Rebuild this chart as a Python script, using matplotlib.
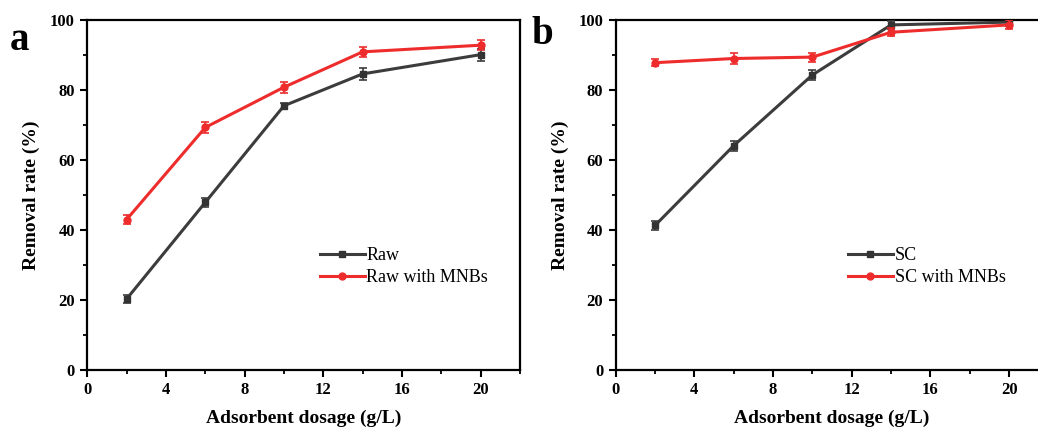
import matplotlib.pyplot as plt
from matplotlib.ticker import MultipleLocator

plt.rcParams['font.family'] = ['Liberation Serif', 'DejaVu Serif']

dosage = [2, 6, 10, 14, 20]

raw = [20.3, 47.9, 75.5, 84.6, 90.1]
raw_err = [1.2, 1.2, 0.9, 1.8, 1.7]
raw_mnb = [43.0, 69.3, 80.8, 90.9, 92.8]
raw_mnb_err = [1.3, 1.7, 1.6, 1.4, 1.5]

sc = [41.3, 64.1, 84.3, 98.6, 99.4]
sc_err = [1.2, 1.4, 1.5, 1.2, 1.0]
sc_mnb = [87.8, 89.0, 89.4, 96.5, 98.6]
sc_mnb_err = [1.0, 1.6, 1.3, 1.2, 1.3]

grey = '#3c3c3c'
red = '#ee2c2c'

fig = plt.figure(figsize=(10.38, 4.30), dpi=100)
W, H = 1038, 430
axa = fig.add_axes([87.3 / W, 60 / H, 432.7 / W, 350 / H])
axb = fig.add_axes([615.7 / W, 60 / H, 432.7 / W, 350 / H])


def panel(ax, y1, e1, y2, e2, names, letter, lx, ly):
    ax.errorbar(dosage, y1, yerr=e1, color=grey, lw=2.2, marker='s', ms=5,
                mfc='#333333', mec='#333333', capsize=3, elinewidth=1.2,
                capthick=1.2, label=names[0], zorder=3)
    ax.errorbar(dosage, y2, yerr=e2, color=red, lw=2.2, marker='o', ms=5,
                mfc=red, mec=red, capsize=3, elinewidth=1.2,
                capthick=1.2, label=names[1], zorder=4)
    ax.set_xlim(0, 22)
    ax.set_ylim(0, 100)
    ax.xaxis.set_major_locator(MultipleLocator(4))
    ax.xaxis.set_minor_locator(MultipleLocator(2))
    ax.yaxis.set_major_locator(MultipleLocator(20))
    ax.yaxis.set_minor_locator(MultipleLocator(10))
    ax.set_xticks([0, 4, 8, 12, 16, 20])
    for s in ax.spines.values():
        s.set_linewidth(1.6)
    ax.tick_params(which='major', direction='out', length=5, width=1.5,
                   labelsize=12, pad=4)
    ax.tick_params(which='minor', direction='out', length=3, width=1.3)
    for t in ax.get_xticklabels() + ax.get_yticklabels():
        t.set_fontweight('bold')
    ax.set_xlabel('Adsorbent dosage (g/L)', fontsize=14, fontweight='bold',
                  labelpad=8)
    ax.set_ylabel('Removal rate (%)', fontsize=14, fontweight='bold',
                  labelpad=7)
    handles, labels = ax.get_legend_handles_labels()
    handles = [h[0] for h in handles]
    ax.legend(handles, labels, loc='upper left', bbox_to_anchor=(0.52, 0.372),
              frameon=False, fontsize=13, handlelength=2.5, handletextpad=0.1,
              labelspacing=0.3, borderaxespad=0)
    fig.text(lx, ly, letter, fontsize=28, fontweight='bold', ha='left',
             va='center')


panel(axa, raw, raw_err, raw_mnb, raw_mnb_err, ['Raw', 'Raw with MNBs'],
      'a', 10 / W, 0.905)
panel(axb, sc, sc_err, sc_mnb, sc_mnb_err, ['SC', 'SC with MNBs'],
      'b', 531 / W, 0.92)

fig.savefig('out.png', dpi=100)
